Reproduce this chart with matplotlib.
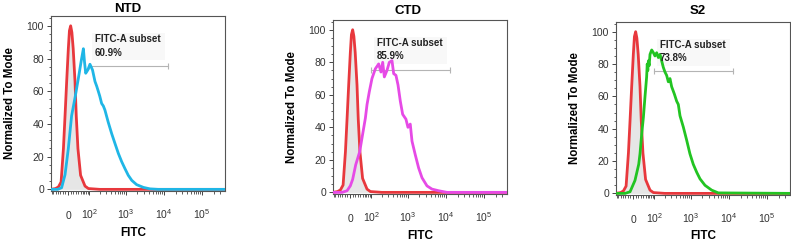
import matplotlib.pyplot as plt
from matplotlib.ticker import NullFormatter

plt.rcParams['font.family'] = ['Liberation Sans', 'DejaVu Sans']

# Unstained / isotype control (red), same in all three panels
ctrl_x = [-74, -50, -37, -26, -17, -11, -5, 1, 5, 9.5, 14, 19, 26, 31, 38, 50, 73, 94, 200, 400000]
ctrl_y = [0, 0.5, 1.5, 4.5, 25, 45, 66, 86, 97, 100, 96, 86, 66, 45, 25, 8.6, 2, 0.5, 0, 0]

# NTD (blue)
ntd_x = [-74, -40, -24, -11, 1, 13, 26, 40, 55, 64, 70, 77, 90, 105, 125, 147, 165, 182, 200,
         225, 250, 276, 339, 419, 512, 627, 766, 936, 1145, 1415, 1897, 2860, 4270, 7000, 400000]
ntd_y = [0, 0, 1, 9, 25, 45, 56, 68, 80, 86, 78, 71, 73, 76.5, 73, 66, 63, 60, 57,
         52.5, 51, 48.5, 41, 34, 28, 22, 17, 12.7, 8.6, 5.5, 2.9, 1.2, 0.3, 0, 0]

# CTD (magenta)
ctd_x = [-74, -30, -11, 1, 9.5, 21, 37, 50, 64, 73, 87, 105, 132, 164, 190, 212, 235, 277, 320,
         377, 418, 480, 545, 627, 722, 882, 996, 1145, 1272, 1555, 1902, 2330, 3150, 4270, 6380,
         10600, 400000]
ctd_y = [0, 0, 1, 4, 8, 17, 25, 35.6, 45.7, 54, 62, 70, 76, 79, 74, 80, 71, 75, 80,
         81, 73, 72, 66, 56, 48, 45, 40, 42, 31.5, 23, 15, 9, 4, 2, 1,
         0, 0]

# S2 (green)
s2_x = [-74, -30, -11, 7, 21, 26, 33, 40, 47, 55, 58, 61, 64, 68, 73, 83, 94, 105, 118, 132, 147,
        164, 182, 203, 225, 250, 277, 307, 362, 418, 462, 512, 627, 766, 936, 1145, 1415, 1720,
        2330, 3490, 5210, 400000]
s2_y = [0, 0, 1, 8, 18, 24.5, 37, 47, 59.5, 72, 80, 76, 82, 79, 86, 88.7, 87, 85, 87, 84, 86,
        82, 78, 75, 73, 69, 71, 66, 61.5, 57, 55, 48, 41, 33, 24.5, 18, 13, 9,
        5, 2, 0.3, 0]

names = ['NTD', 'CTD', 'S2']
series_x = [ntd_x, ctd_x, s2_x]
series_y = [ntd_y, ctd_y, s2_y]
colors = ['#1fb6e6', '#e64ae6', '#22c422']
subset_pct = ['60.9%', '85.9%', '73.8%']

# gate "FITC-A subset"
gate_x = [95, 13000]
gate_y = 75.5

x_ticks = [0, 100, 1000, 10000, 100000]
x_ticklabels = ['0', r'$\mathregular{10^2}$', r'$\mathregular{10^3}$',
                r'$\mathregular{10^4}$', r'$\mathregular{10^5}$']
x_minor = [-70, -60, -50, -40, -30, -20, -10, 10, 20, 30, 40, 50, 60, 70, 80, 90] + \
          [k * 10 ** d for d in range(2, 6) for k in range(2, 10) if k * 10 ** d < 400000]

# axes boxes in pixels: left, top, right, bottom
W, H = 791, 242
boxes = [(51, 16, 225, 191), (333, 20, 507, 194), (616, 22, 790, 195)]
title_x = [0.443, 0.431, 0.471]
title_pad = [3.0, 4.5, 6.0]
xlabel_x = [0.471, 0.5, 0.5]

fig = plt.figure(figsize=(W / 100, H / 100), dpi=100)

for i in range(3):
    l, t, r, b = boxes[i]
    ax = fig.add_axes([l / W, 1 - b / H, (r - l) / W, (b - t) / H])
    ax.set_xscale('asinh', linear_width=60)
    ax.set_xlim(-73.5, 399000)
    ax.set_ylim(-1, 106)

    # control histogram with grey fill
    ax.fill_between(ctrl_x, ctrl_y, 0, color='#dcdcdc', alpha=0.7, lw=0, zorder=1)
    ax.plot(ctrl_x, ctrl_y, color='#e8383d', lw=2.0, zorder=3, solid_joinstyle='round')
    ax.plot(series_x[i], series_y[i], color=colors[i], lw=2.0, zorder=4, solid_joinstyle='round')

    # gate box, bar and labels
    ax.fill_between([121, 10500], 79, 95.7, color='#f8f8f8', lw=0, zorder=0.5)
    ax.plot(gate_x, [gate_y, gate_y], color='#b4b4b4', lw=0.8, zorder=2)
    ax.plot(gate_x, [gate_y, gate_y], ls='none', marker='|', ms=4, mew=0.8,
            color='#b4b4b4', zorder=2)
    ax.text(147, 92, 'FITC-A subset', fontsize=7, fontweight='bold', color='#222222',
            va='center', ha='left', zorder=5)
    ax.text(147, 83.6, subset_pct[i], fontsize=7, fontweight='bold', color='#222222',
            va='center', ha='left', zorder=5)

    ax.set_yticks([0, 20, 40, 60, 80, 100])
    ax.set_yticks(range(0, 106, 5), minor=True)
    ax.set_xticks(x_ticks)
    ax.set_xticklabels(x_ticklabels)
    ax.set_xticks(x_minor, minor=True)
    ax.xaxis.set_minor_formatter(NullFormatter())

    ax.tick_params(axis='both', which='major', length=3, width=0.7, color='#444444',
                   labelsize=7.5, labelcolor='#333333')
    ax.tick_params(axis='both', which='minor', length=1.8, width=0.6, color='#444444')
    ax.tick_params(axis='y', which='major', pad=2)
    ax.tick_params(axis='x', which='major', pad=17)
    for lab in ax.get_xticklabels():
        lab.set_verticalalignment('baseline')

    for s in ax.spines.values():
        s.set_color('#555555')
        s.set_linewidth(0.8)

    ax.set_title(names[i], fontsize=9.5, fontweight='bold', x=title_x[i], pad=title_pad[i])
    ax.set_ylabel('Normalized To Mode', fontsize=8.3, fontweight='bold', labelpad=8)
    ax.set_xlabel('FITC', fontsize=8.5, fontweight='bold')
    ax.xaxis.set_label_coords(xlabel_x[i], -0.205)
    ax.xaxis.label.set_verticalalignment('top')

fig.savefig('out.png', dpi=100)
